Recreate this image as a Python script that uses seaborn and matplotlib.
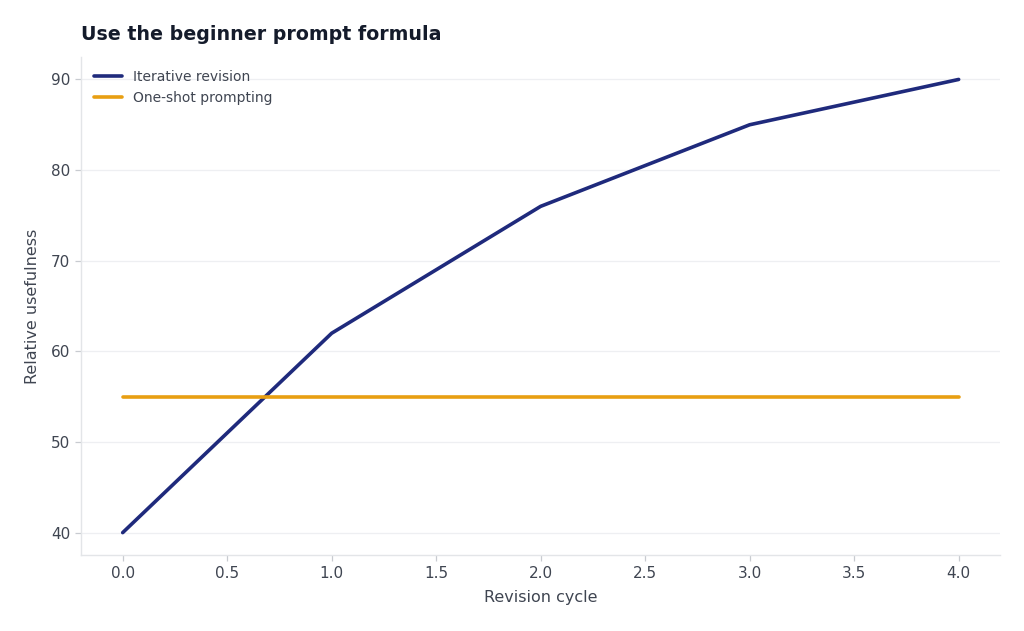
import matplotlib
matplotlib.use("Agg")
import matplotlib.pyplot as plt
import seaborn as sns
import pandas as pd

cycles = [0, 1, 2, 3, 4]
iterative = [40, 62, 76, 85, 90]
one_shot = [55, 55, 55, 55, 55]
series_names = ["Iterative revision", "One-shot prompting"]
palette = ["#1f2a7c", "#e89f12"]

df = pd.DataFrame({
    "cycle": cycles * 2,
    "value": iterative + one_shot,
    "series": [series_names[0]] * len(cycles) + [series_names[1]] * len(cycles),
})

sns.set_theme(style="white")
plt.rcParams["font.family"] = ["DejaVu Sans"]

fig, ax = plt.subplots(figsize=(10.24, 6.31), dpi=100)
fig.subplots_adjust(left=0.079, right=0.977, top=0.91, bottom=0.12)

sns.lineplot(data=df, x="cycle", y="value", hue="series", palette=palette,
             linewidth=2.6, ax=ax)

ax.set_xlim(-0.2, 4.2)
ax.set_ylim(37.5, 92.5)
ax.set_xticks([0, 0.5, 1, 1.5, 2, 2.5, 3, 3.5, 4])
ax.set_yticks([40, 50, 60, 70, 80, 90])
ax.yaxis.grid(True, color="#eeeff2", linewidth=0.9)
ax.set_axisbelow(True)

for side in ["top", "right"]:
    ax.spines[side].set_visible(False)
for side in ["left", "bottom"]:
    ax.spines[side].set_color("#e3e5e8")
    ax.spines[side].set_linewidth(1.0)

ax.tick_params(axis="both", colors="#c8cbd0", labelcolor="#3f4551",
               labelsize=11, length=4, width=0.9, left=True, bottom=True)
ax.set_xlabel("Revision cycle", fontsize=11.5, color="#3f4551", labelpad=7)
ax.set_ylabel("Relative usefulness", fontsize=11.5, color="#3f4551", labelpad=8)

ax.set_title("Use the beginner prompt formula", loc="left", fontsize=13.7,
             fontweight="bold", color="#141b2b", pad=12)

leg = ax.legend(loc="upper left", frameon=False, fontsize=10,
                handlelength=2.0, handletextpad=0.8, borderaxespad=0.55,
                labelspacing=0.5)
for txt in leg.get_texts():
    txt.set_color("#3f4551")

fig.savefig("out.png", dpi=100)
